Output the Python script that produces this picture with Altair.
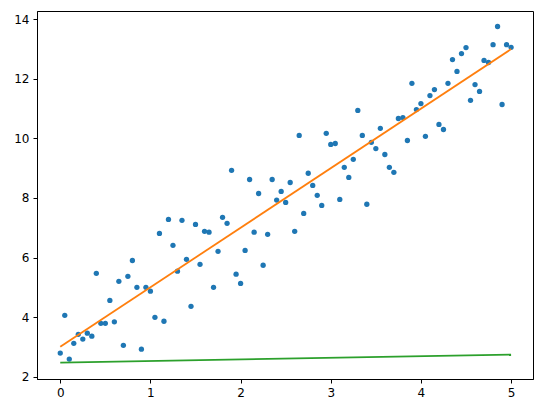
import altair as alt
import pandas as pd

x_vals = [0.00, 0.05, 0.10, 0.15, 0.20, 0.25, 0.30, 0.35, 0.40, 0.45,
          0.50, 0.55, 0.60, 0.65, 0.70, 0.75, 0.80, 0.85, 0.90, 0.95,
          1.00, 1.05, 1.10, 1.15, 1.20, 1.25, 1.30, 1.35, 1.40, 1.45,
          1.50, 1.55, 1.60, 1.65, 1.70, 1.75, 1.80, 1.85, 1.90, 1.95,
          2.00, 2.05, 2.10, 2.15, 2.20, 2.25, 2.30, 2.35, 2.40, 2.45,
          2.50, 2.55, 2.60, 2.65, 2.70, 2.75, 2.80, 2.85, 2.90, 2.95,
          3.00, 3.05, 3.10, 3.15, 3.20, 3.25, 3.30, 3.35, 3.40, 3.45,
          3.50, 3.55, 3.60, 3.65, 3.70, 3.75, 3.80, 3.85, 3.90, 3.95,
          4.00, 4.05, 4.10, 4.15, 4.20, 4.25, 4.30, 4.35, 4.40, 4.45,
          4.50, 4.55, 4.60, 4.65, 4.70, 4.75, 4.80, 4.85, 4.90, 4.95,
          5.00]

y_vals = [2.79, 4.06, 2.59, 3.12, 3.42, 3.26, 3.46, 3.36, 5.47, 3.79,
          3.79, 4.56, 3.84, 5.20, 3.05, 5.37, 5.90, 5.00, 2.92, 5.00,
          4.87, 3.99, 6.81, 3.86, 7.28, 6.41, 5.54, 7.25, 5.94, 4.36,
          7.11, 5.77, 6.88, 6.85, 5.00, 6.21, 7.35, 7.15, 8.93, 5.44,
          5.13, 6.24, 8.62, 6.85, 8.15, 5.74, 6.78, 8.62, 7.93, 8.22,
          7.85, 8.52, 6.88, 10.10, 7.48, 8.83, 8.42, 8.09, 7.75, 10.17,
          9.80, 9.83, 7.95, 9.03, 8.69, 9.30, 10.94, 10.10, 7.79, 9.87,
          9.66, 10.34, 9.46, 9.03, 8.86, 10.67, 10.70, 9.93, 11.85, 10.97,
          11.17, 10.07, 11.44, 11.64, 10.47, 10.30, 11.85, 12.65, 12.25, 12.85,
          13.05, 11.28, 11.81, 11.58, 12.62, 12.55, 13.15, 13.76, 11.14, 13.15,
          13.06]

fit_x = [0.0, 5.0]
fit_y = [3.0, 13.0]
low_x = [0.0, 5.0]
low_y = [2.47, 2.74]

pts = pd.DataFrame({"x": x_vals, "y": y_vals})
fit = pd.DataFrame({"x": fit_x, "y": fit_y})
low = pd.DataFrame({"x": low_x, "y": low_y})

xs = alt.Scale(domain=[-0.258, 5.243], nice=False, zero=False)
ys = alt.Scale(domain=[1.92, 14.28], nice=False, zero=False)

xax = alt.Axis(values=[0, 1, 2, 3, 4, 5], title=None, grid=False, format="d")
yax = alt.Axis(values=[2, 4, 6, 8, 10, 12, 14], title=None, grid=False, format="d")

scatter = alt.Chart(pts).mark_circle(color="#1f77b4", opacity=1, size=28).encode(
    x=alt.X("x:Q", scale=xs, axis=xax),
    y=alt.Y("y:Q", scale=ys, axis=yax),
)

line1 = alt.Chart(fit).mark_line(color="#ff7f0e", strokeWidth=1.8).encode(
    x=alt.X("x:Q", scale=xs), y=alt.Y("y:Q", scale=ys)
)
line2 = alt.Chart(low).mark_line(color="#2ca02c", strokeWidth=1.8).encode(
    x=alt.X("x:Q", scale=xs), y=alt.Y("y:Q", scale=ys)
)

chart = (
    alt.layer(scatter, line1, line2)
    .properties(
        width=496,
        height=368,
        autosize=alt.AutoSizeParams(type="none"),
        padding={"left": 29, "top": 3, "right": 2, "bottom": 30},
        background="white",
    )
    .configure_view(stroke="black", strokeWidth=1)
    .configure_axis(
        domainColor="black",
        domainWidth=1,
        tickColor="black",
        tickSize=4,
        tickWidth=1,
        labelFont="DejaVu Sans",
        labelFontSize=12,
        labelColor="black",
        labelPadding=4,
    )
)

chart.save("out.html", embed_options={"renderer": "svg", "actions": False})
